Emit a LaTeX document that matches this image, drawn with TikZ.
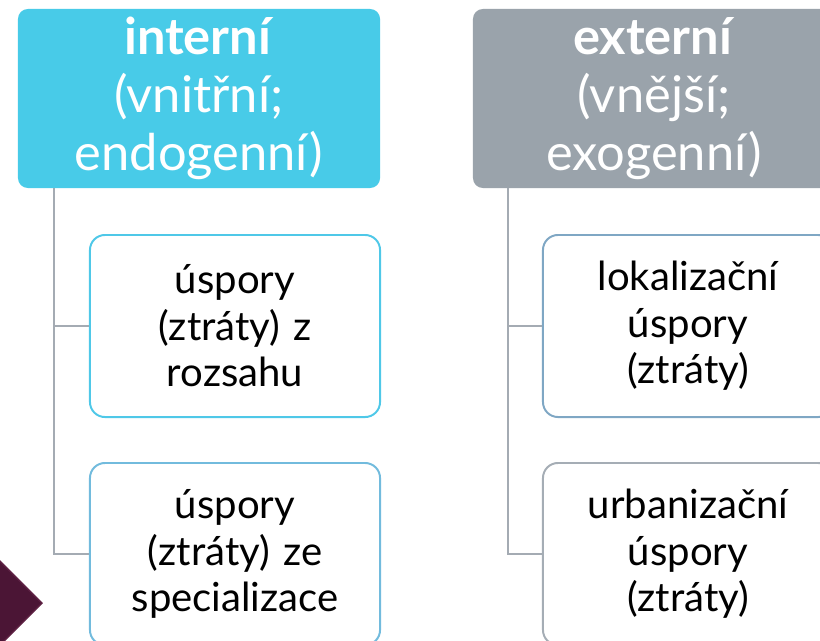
\documentclass[tikz,border=0pt]{standalone}
\usepackage{fontspec}
\setmainfont{Lato}
\usetikzlibrary{positioning,calc}

\definecolor{headcyan}{HTML}{48CBE8}
\definecolor{headgray}{HTML}{9AA3AB}
\definecolor{branchgray}{HTML}{A4ABB3}
\definecolor{rimcyan}{HTML}{4FC8E8}
\definecolor{rimblue}{HTML}{72BBDD}
\definecolor{rimsteel}{HTML}{7FA7C4}
\definecolor{rimgray}{HTML}{A5ADB5}
\definecolor{maroon}{HTML}{4B1535}
\definecolor{maroonrim}{HTML}{5E2143}

\begin{document}
\begin{tikzpicture}[x=0.025cm,y=-0.025cm]
\tikzstyle{head}=[rectangle,rounded corners=0.25cm,minimum width=9.05cm,minimum height=4.475cm,text width=8.8cm,align=center,inner sep=0pt,text=white,font=\fontsize{36}{41}\selectfont]
\tikzstyle{leaf}=[rectangle,draw,line width=1.4pt,rounded corners=0.375cm,fill=white,minimum width=7.25cm,minimum height=4.55cm,text width=6.9cm,align=center,inner sep=0pt,font=\fontsize{28.5}{33}\selectfont]
\tikzstyle{branch}=[draw=branchgray,line width=1.4pt]

\useasboundingbox (0,0) rectangle (820,640);
\clip (0,0) rectangle (820,640);

% left tree
\node (hint) [head,fill=headcyan] at (199,98.5) {\textbf{interní}\\(vnitřní;\\endogenní)};
\node (uroz) [leaf,draw=rimcyan] at (235,326) {úspory\\(ztráty) z\\rozsahu};
\node (uspec) [leaf,draw=rimblue] at (235,554) {úspory\\(ztráty) ze\\specializace};
\coordinate (tint) at ([xshift=0.9cm]hint.south west);
\draw [branch] (tint) |- (uroz.west);
\draw [branch] (tint) |- (uspec.west);

% right tree
\node (hext) [head,fill=headgray] at (654,98.5) {\textbf{externí}\\(vnější;\\exogenní)};
\node (ulok) [leaf,draw=rimsteel] at (688,326) {lokalizační\\úspory\\(ztráty)};
\node (uurb) [leaf,draw=rimgray] at (688,554) {urbanizační\\úspory\\(ztráty)};
\coordinate (text) at ([xshift=0.875cm]hext.south west);
\draw [branch] (text) |- (ulok.west);
\draw [branch] (text) |- (uurb.west);

% corner marker
\draw [fill=maroon,draw=maroonrim,line width=1pt] (-8,553) -- (42,603) -- (-8,653) -- cycle;
\end{tikzpicture}
\end{document}
